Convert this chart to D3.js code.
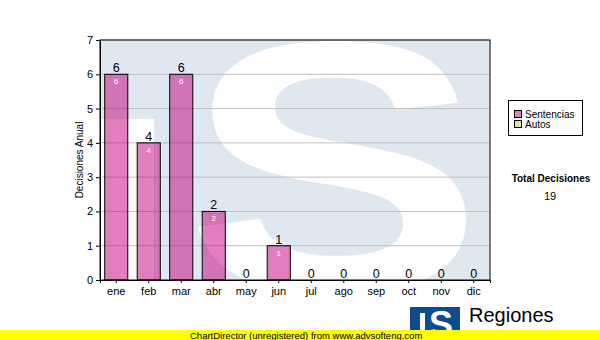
<!DOCTYPE html>
<html>
<head>
<meta charset="utf-8">
<script src="https://cdn.jsdelivr.net/npm/d3@7"></script>
<style>
  body { margin: 0; background: #fff; }
  svg { display: block; font-family: "Liberation Sans", Arial, sans-serif; }
</style>
</head>
<body>
<div id="chart"></div>
<script>
// chart data
var months = ["ene", "feb", "mar", "abr", "may", "jun", "jul", "ago", "sep", "oct", "nov", "dic"];
var sentencias = [6, 4, 6, 2, 0, 1, 0, 0, 0, 0, 0, 0];
var autos = [0, 0, 0, 0, 0, 0, 0, 0, 0, 0, 0, 0];
var yTicks = [0, 1, 2, 3, 4, 5, 6, 7];
var legendLabels = ["Sentencias", "Autos"];
var totalLabel = "Total Decisiones";

var W = 600, H = 340;
var plot = {left: 100, top: 40, right: 490, bottom: 280};

var svg = d3.select("#chart").append("svg")
    .attr("width", W)
    .attr("height", H);

var x = d3.scaleBand()
    .domain(months)
    .range([plot.left, plot.right])
    .paddingInner(0.29)
    .paddingOuter(0.145);

var y = d3.scaleLinear()
    .domain([0, 7])
    .range([plot.bottom, plot.top]);

// watermark behind the plot
svg.append("clipPath").attr("id", "plotClip")
  .append("rect")
    .attr("x", plot.left).attr("y", plot.top)
    .attr("width", plot.right - plot.left).attr("height", plot.bottom - plot.top);

var wm = svg.append("g").attr("clip-path", "url(#plotClip)");
wm.append("rect")
    .attr("x", plot.left).attr("y", plot.top)
    .attr("width", plot.right - plot.left).attr("height", plot.bottom - plot.top)
    .attr("fill", "#dfe8f1");
wm.append("rect")
    .attr("x", plot.left).attr("y", 119)
    .attr("width", 54).attr("height", plot.bottom - 119)
    .attr("fill", "#fff");
wm.append("text")
    .attr("transform", "translate(185,291) scale(1.25,1)")
    .attr("font-family", "Liberation Sans, Arial, sans-serif")
    .attr("font-weight", "bold")
    .attr("font-size", 358)
    .attr("fill", "#fff")
    .text("S");

// horizontal grid
svg.append("g")
  .selectAll("line")
  .data(yTicks.slice(1))
  .join("line")
    .attr("x1", plot.left).attr("x2", plot.right)
    .attr("y1", function(d) { return y(d); })
    .attr("y2", function(d) { return y(d); })
    .attr("stroke", "#c0c0c0")
    .attr("stroke-width", 1);

// stacked bars
var rows = months.map(function(m, i) {
  return {month: m, sentencias: sentencias[i], autos: autos[i]};
});
var stack = d3.stack().keys(["sentencias", "autos"])(rows);
var colors = {sentencias: "rgba(193,0,121,0.5)", autos: "rgba(190,220,110,0.6)"};

stack.forEach(function(layer) {
  svg.append("g")
    .selectAll("rect")
    .data(layer.filter(function(d) { return d[1] - d[0] > 0; }))
    .join("rect")
      .attr("x", function(d) { return x(d.data.month); })
      .attr("y", function(d) { return y(d[1]); })
      .attr("width", x.bandwidth())
      .attr("height", function(d) { return y(d[0]) - y(d[1]); })
      .attr("fill", colors[layer.key])
      .attr("stroke", "#000")
      .attr("stroke-width", 1);

  // value inside the bar
  svg.append("g")
    .selectAll("text")
    .data(layer.filter(function(d) { return d[1] - d[0] > 0; }))
    .join("text")
      .attr("x", function(d) { return x(d.data.month) + x.bandwidth() / 2; })
      .attr("y", function(d) { return y(d[1]) + 10; })
      .attr("text-anchor", "middle")
      .attr("font-size", 8)
      .attr("fill", "#fff")
      .text(function(d) { return d[1] - d[0]; });
});

// totals above bars
svg.append("g")
  .selectAll("text")
  .data(rows)
  .join("text")
    .attr("x", function(d) { return x(d.month) + x.bandwidth() / 2; })
    .attr("y", function(d) { return y(d.sentencias + d.autos) - 2; })
    .attr("text-anchor", "middle")
    .attr("font-size", 12.5)
    .attr("fill", "#000")
    .text(function(d) { return d.sentencias + d.autos; });

// plot frame
svg.append("rect")
    .attr("x", plot.left).attr("y", plot.top)
    .attr("width", plot.right - plot.left).attr("height", plot.bottom - plot.top)
    .attr("fill", "none")
    .attr("stroke", "#000")
    .attr("stroke-width", 1);

// axes
var yAxis = svg.append("g")
    .attr("transform", "translate(" + plot.left + ",0)")
    .call(d3.axisLeft(y).tickValues(yTicks).tickFormat(d3.format("d")).tickSize(4).tickPadding(3));
var xAxis = svg.append("g")
    .attr("transform", "translate(0," + plot.bottom + ")")
    .call(d3.axisBottom(x).tickSize(3).tickPadding(4));
[yAxis, xAxis].forEach(function(ax) {
  ax.select(".domain").attr("stroke", "#000");
  ax.selectAll(".tick line").attr("stroke", "#000");
  ax.selectAll(".tick text")
    .attr("fill", "#000")
    .attr("font-family", "Liberation Sans, Arial, sans-serif")
    .attr("font-size", 11);
});

// y axis title
svg.append("text")
    .attr("transform", "translate(83," + ((plot.top + plot.bottom) / 2) + ") rotate(-90)")
    .attr("text-anchor", "middle")
    .attr("font-size", 10)
    .attr("fill", "#000")
    .text("Decisiones Anual");

// legend
var legend = svg.append("g");
legend.append("rect")
    .attr("x", 508.5).attr("y", 100.5)
    .attr("width", 74).attr("height", 35)
    .attr("fill", "#fff")
    .attr("stroke", "#000");
var swatch = ["#e07fbc", "#d8e8a4"];
legendLabels.forEach(function(lbl, i) {
  legend.append("rect")
      .attr("x", 514.5).attr("y", 110.5 + i * 10)
      .attr("width", 7).attr("height", 7)
      .attr("fill", swatch[i])
      .attr("stroke", "#000");
  legend.append("text")
      .attr("x", 525).attr("y", 118 + i * 10)
      .attr("font-size", 10)
      .attr("fill", "#000")
      .text(lbl);
});

// total
var total = d3.sum(sentencias) + d3.sum(autos);
svg.append("text")
    .attr("x", 551).attr("y", 182)
    .attr("text-anchor", "middle")
    .attr("font-size", 10)
    .attr("font-weight", "bold")
    .attr("fill", "#000")
    .text(totalLabel);
svg.append("text")
    .attr("x", 550).attr("y", 200)
    .attr("text-anchor", "middle")
    .attr("font-size", 11)
    .attr("fill", "#000")
    .text(total);

// logo at bottom right
var logo = svg.append("g");
logo.append("rect")
    .attr("x", 410).attr("y", 307)
    .attr("width", 50).attr("height", 30)
    .attr("fill", "#0d4c8e");
logo.append("rect")
    .attr("x", 420).attr("y", 313)
    .attr("width", 5).attr("height", 24)
    .attr("fill", "#fff");
logo.append("text")
    .attr("x", 441).attr("y", 337)
    .attr("text-anchor", "middle")
    .attr("font-weight", "bold")
    .attr("font-size", 36)
    .attr("fill", "#fff")
    .text("S");
logo.append("text")
    .attr("x", 469).attr("y", 322)
    .attr("font-size", 20)
    .attr("fill", "#000")
    .text("Regiones");
logo.append("text")
    .attr("x", 470).attr("y", 338)
    .attr("font-size", 10)
    .attr("fill", "#000")
    .text("Tribunal Supremo de Justicia");

// unregistered banner
svg.append("rect")
    .attr("x", 0).attr("y", 330)
    .attr("width", W).attr("height", 10)
    .attr("fill", "#ffff00");
svg.append("text")
    .attr("x", 190).attr("y", 338.5)
    .attr("font-size", 9.5)
    .attr("fill", "#000")
    .text("ChartDirector (unregistered) from www.advsofteng.com");
</script>
</body>
</html>
